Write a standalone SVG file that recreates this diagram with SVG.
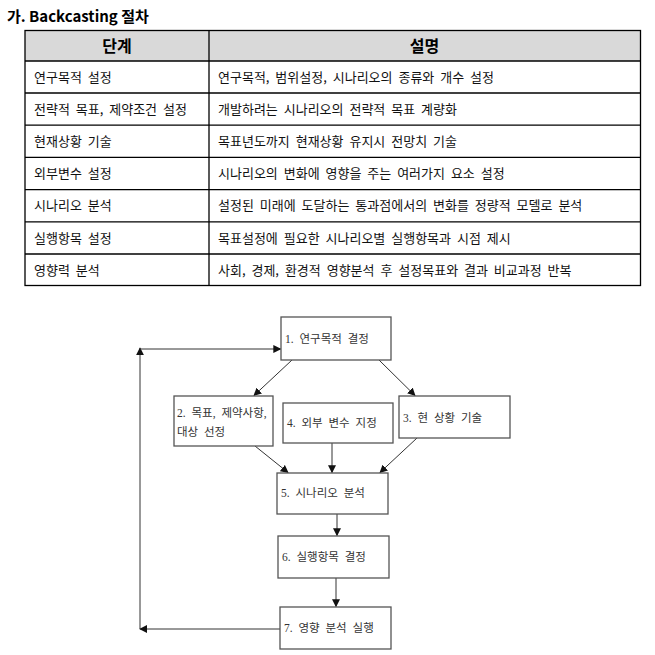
<svg xmlns="http://www.w3.org/2000/svg" width="655" height="655" viewBox="0 0 655 655">
<style>
.title{font-family:"Noto Sans CJK KR","Noto Sans",sans-serif;font-size:15px;font-weight:bold;fill:#000}
.th{font-family:"Noto Sans CJK KR",sans-serif;font-size:16px;font-weight:bold;fill:#000;text-anchor:middle}
.td{font-family:"Noto Sans CJK KR",sans-serif;font-size:13px;fill:#111;word-spacing:3px}
.grid{stroke:#000;stroke-width:1.3;fill:none}
.box{fill:#fff;stroke:#555;stroke-width:1.3}
.bt{font-family:"Liberation Serif","Noto Sans CJK KR",serif;font-size:11.5px;fill:#333;word-spacing:3px}
.con line,.con path{stroke:#333;stroke-width:1;fill:none;marker-end:url(#ah)}
</style>
<defs>
<marker id="ah" viewBox="0 0 10 10" refX="9" refY="5" markerWidth="8" markerHeight="8" markerUnits="userSpaceOnUse" orient="auto">
<path d="M0,0 L10,5 L0,10 z" fill="#111"/>
</marker>
</defs>
<text class="title" x="7" y="22">가. Backcasting 절차</text>
<g id="table">
<rect x="25" y="30.5" width="615.5" height="30.5" fill="#d9d9d9"/>
<rect class="grid" x="25" y="30.5" width="615.5" height="255"/>
<line class="grid" x1="209" y1="30.5" x2="209" y2="285.5"/>
<line class="grid" x1="25" y1="61" x2="640.5" y2="61"/>
<line class="grid" x1="25" y1="93" x2="640.5" y2="93"/>
<line class="grid" x1="25" y1="125.2" x2="640.5" y2="125.2"/>
<line class="grid" x1="25" y1="157.4" x2="640.5" y2="157.4"/>
<line class="grid" x1="25" y1="189.6" x2="640.5" y2="189.6"/>
<line class="grid" x1="25" y1="221.8" x2="640.5" y2="221.8"/>
<line class="grid" x1="25" y1="254" x2="640.5" y2="254"/>
<text class="th" x="117" y="51.5">단계</text>
<text class="th" x="424.5" y="51.5">설명</text>
<text class="td" x="34" y="81.5">연구목적 설정</text>
<text class="td" x="218" y="81.5">연구목적, 범위설정, 시나리오의 종류와 개수 설정</text>
<text class="td" x="34" y="113.7">전략적 목표, 제약조건 설정</text>
<text class="td" x="218" y="113.7">개발하려는 시나리오의 전략적 목표 계량화</text>
<text class="td" x="34" y="145.9">현재상황 기술</text>
<text class="td" x="218" y="145.9">목표년도까지 현재상황 유지시 전망치 기술</text>
<text class="td" x="34" y="178.1">외부변수 설정</text>
<text class="td" x="218" y="178.1">시나리오의 변화에 영향을 주는 여러가지 요소 설정</text>
<text class="td" x="34" y="210.3">시나리오 분석</text>
<text class="td" x="218" y="210.3">설정된 미래에 도달하는 통과점에서의 변화를 정량적 모델로 분석</text>
<text class="td" x="34" y="242.5">실행항목 설정</text>
<text class="td" x="218" y="242.5">목표설정에 필요한 시나리오별 실행항목과 시점 제시</text>
<text class="td" x="34" y="274.7">영향력 분석</text>
<text class="td" x="218" y="274.7">사회, 경제, 환경적 영향분석 후 설정목표와 결과 비교과정 반복</text>
</g>
<g class="con" id="connectors">
<line x1="292" y1="360" x2="254" y2="395.5"/>
<line x1="379" y1="360" x2="415" y2="395.5"/>
<line x1="255" y1="446" x2="288" y2="472.5"/>
<line x1="332" y1="443" x2="332" y2="472.5"/>
<line x1="417" y1="438" x2="380" y2="472.5"/>
<line x1="337" y1="514" x2="337" y2="535.5"/>
<line x1="336" y1="578" x2="336" y2="606.5"/>
<line x1="280" y1="629" x2="140" y2="629"/>
<line x1="140" y1="629" x2="140" y2="348"/>
<line x1="140" y1="349" x2="280.5" y2="349"/>
</g>
<g id="n1"><rect class="box" x="281" y="317" width="110" height="43"/><text class="bt" x="285" y="343">1. 연구목적 결정</text></g>
<g id="n2"><rect class="box" x="174" y="396" width="99" height="50"/><text class="bt" x="177" y="417">2. 목표, 제약사항,</text><text class="bt" x="177" y="436">대상 선정</text></g>
<g id="n4"><rect class="box" x="283" y="403" width="110" height="40"/><text class="bt" x="287" y="427">4. 외부 변수 지정</text></g>
<g id="n3"><rect class="box" x="399" y="396" width="111" height="42"/><text class="bt" x="403" y="422">3. 현 상황 기술</text></g>
<g id="n5"><rect class="box" x="277" y="473" width="111" height="41"/><text class="bt" x="281" y="497">5. 시나리오 분석</text></g>
<g id="n6"><rect class="box" x="278" y="536" width="111" height="42"/><text class="bt" x="282" y="561">6. 실행항목 결정</text></g>
<g id="n7"><rect class="box" x="280" y="607" width="111" height="42"/><text class="bt" x="284" y="632">7. 영향 분석 실행</text></g>
</svg>
